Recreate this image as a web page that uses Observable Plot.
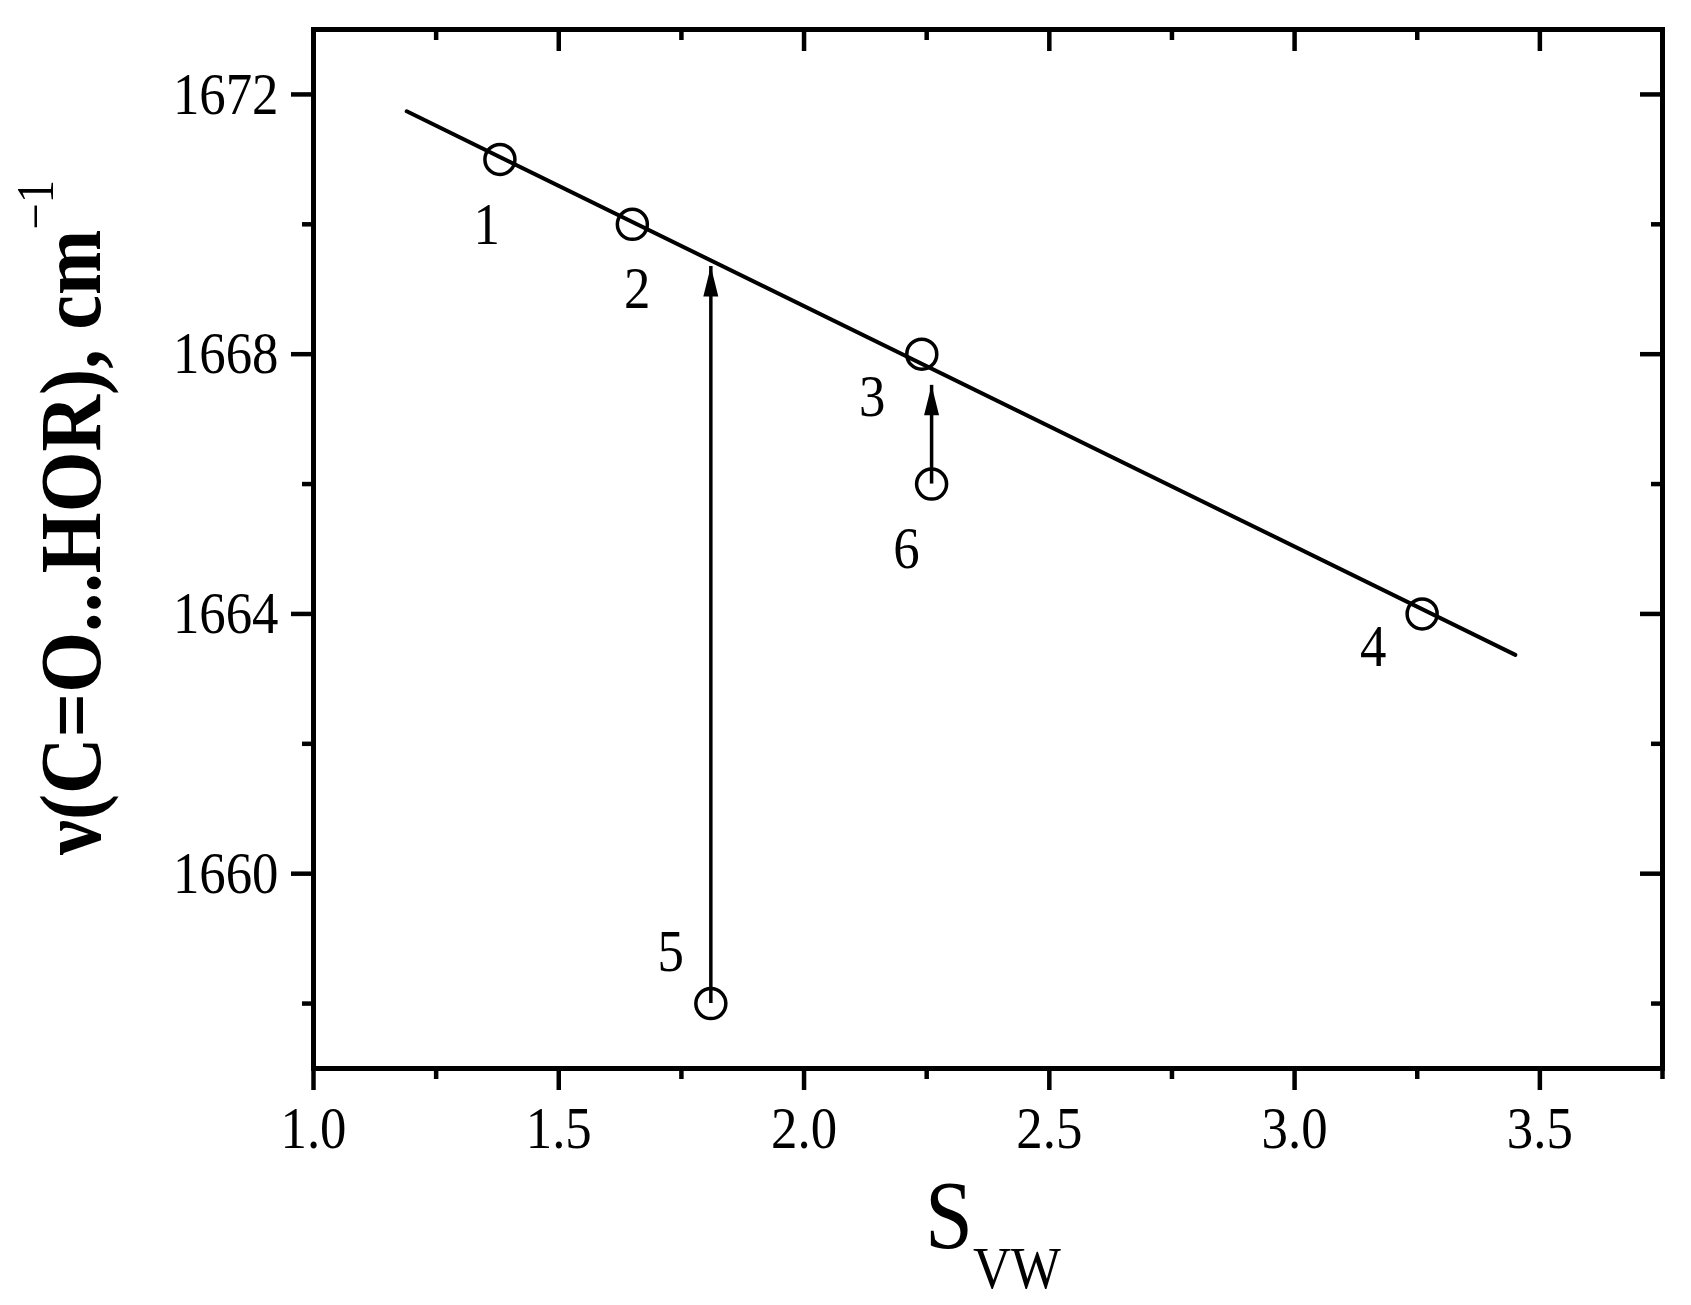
<!DOCTYPE html>
<html>
<head>
<meta charset="utf-8">
<script src="https://cdn.jsdelivr.net/npm/d3@7"></script>
<script src="https://cdn.jsdelivr.net/npm/@observablehq/plot@0.6"></script>
<style>
  html, body { margin: 0; padding: 0; background: #fff; overflow: hidden; }
</style>
</head>
<body>
<div id="chart"></div>
<script>
// ---- data ----
const pointLabels = ["1", "2", "3", "4", "5", "6"];
const sVW  = [1.38, 1.65, 2.24, 3.26, 1.81, 2.26];
const nuCO = [1671, 1670, 1668, 1664, 1658, 1666];
const labelS  = [1.353, 1.66, 2.139, 3.16, 1.728, 2.209];
const labelNu = [1670.0, 1669.0, 1667.34, 1663.5, 1658.8, 1665.0];
const fitS  = [1.19, 3.45];
const fitNu = [1671.74, 1663.37];
const arrowS    = [1.81, 2.26];
const arrowFrom = [1658, 1666];
const arrowTo   = [1669.35, 1667.52];
const xMajor = [1.0, 1.5, 2.0, 2.5, 3.0, 3.5];
const xMinor = [1.25, 1.75, 2.25, 2.75, 3.25, 3.75];
const yMajor = [1660, 1664, 1668, 1672];
const yMinor = [1658, 1662, 1666, 1670];

// ---- tables built from the arrays ----
const points = sVW.map((s, i) => ({s, nu: nuCO[i]}));
const labels = pointLabels.map((t, i) => ({t, s: labelS[i], nu: labelNu[i]}));
const fit = fitS.map((s, i) => ({s, nu: fitNu[i]}));
const arrows = arrowS.map((s, i) => ({s, from: arrowFrom[i], to: arrowTo[i]}));

const W = 1691, H = 1305;
const mL = 313, mR = 29, mT = 29, mB = 237;
const PW = W - mL - mR, PH = H - mT - mB;
const FONT = "'Liberation Serif', 'Times New Roman', serif";

// filled narrow arrowhead, tip at the origin
const arrowHead = {
  draw(ctx, size) {
    const r = Math.sqrt(size / Math.PI);
    ctx.moveTo(0, 0);
    ctx.lineTo(r / 2, 2 * r);
    ctx.lineTo(-r / 2, 2 * r);
    ctx.closePath();
  }
};

const svg = Plot.plot({
  width: W,
  height: H,
  marginLeft: mL,
  marginRight: mR,
  marginTop: mT,
  marginBottom: mB,
  style: {fontFamily: FONT, fontSize: "60px", background: "white", color: "black"},
  x: {domain: [1, 3.75], axis: null},
  y: {domain: [1657, 1673], axis: null},
  marks: [
    // axes with labels (outward major ticks)
    Plot.axisX({ticks: xMajor, tickSize: 22, tickPadding: 15, strokeWidth: 4.5,
                tickFormat: d3.format(".1f"), label: null, anchor: "bottom"}),
    Plot.axisY({ticks: yMajor, tickSize: 22, tickPadding: 13, strokeWidth: 4.5,
                tickFormat: d => d.toFixed(0), label: null, anchor: "left"}),
    // minor outward ticks
    Plot.tickX(xMinor, {x: d => d, insetTop: PH, insetBottom: -11, strokeWidth: 4.5}),
    Plot.tickY(yMinor, {y: d => d, insetLeft: -11, insetRight: PW, strokeWidth: 4.5}),
    // inward ticks on top and right
    Plot.tickX(xMajor, {x: d => d, insetBottom: PH - 22, strokeWidth: 4.5}),
    Plot.tickX(xMinor, {x: d => d, insetBottom: PH - 11, strokeWidth: 4.5}),
    Plot.tickY(yMajor, {y: d => d, insetLeft: PW - 22, strokeWidth: 4.5}),
    Plot.tickY(yMinor, {y: d => d, insetLeft: PW - 11, strokeWidth: 4.5}),
    Plot.frame({strokeWidth: 5}),
    // fitted line
    Plot.line(fit, {x: "s", y: "nu", stroke: "black", strokeWidth: 4}),
    // arrows
    Plot.ruleX(arrows, {x: "s", y1: "from", y2: "to", stroke: "black", strokeWidth: 3.5}),
    Plot.dot(arrows, {x: "s", y: "to", symbol: arrowHead, r: 15, fill: "black", stroke: "none"}),
    // data points
    Plot.dot(points, {x: "s", y: "nu", r: 15, stroke: "black", strokeWidth: 3.5, fill: "none"}),
    // point numbers
    Plot.text(labels, {x: "s", y: "nu", text: "t", fontSize: 60, fill: "black"})
  ]
});

// narrow the serif glyphs like the reference
d3.select(svg).selectAll("text").each(function () {
  const el = d3.select(this);
  const t = el.attr("transform") || "";
  const x = +el.attr("x") || 0, y = +el.attr("y") || 0;
  el.attr("transform", `${t} translate(${x},${y}) scale(0.88,1) translate(${-x},${-y})`);
});

const root = d3.select(svg);
// y-axis title
const yl = root.append("text")
  .attr("transform", "translate(100,855) rotate(-90) scale(0.9,1)")
  .attr("font-family", FONT).attr("font-size", 87).attr("font-weight", "bold")
  .attr("fill", "black").attr("text-anchor", "start");
yl.append("tspan").text("ν(C=O...HOR), cm");
yl.append("tspan").attr("font-size", 52).attr("font-weight", "normal").attr("dy", -47).text("−1");

// x-axis title
const xl = root.append("text")
  .attr("transform", "translate(925,1248) scale(0.88,1)")
  .attr("font-family", FONT).attr("font-size", 98)
  .attr("fill", "black").attr("text-anchor", "start");
xl.append("tspan").text("S");
xl.append("tspan").attr("font-size", 60).attr("dy", 40).text("VW");

document.getElementById("chart").appendChild(svg);
</script>
</body>
</html>
